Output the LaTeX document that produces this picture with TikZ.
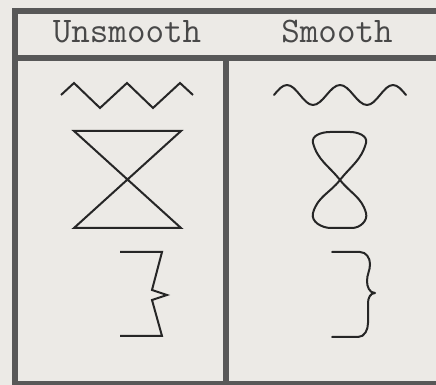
\documentclass[tikz,border=0pt]{standalone}
\definecolor{paper}{RGB}{236,234,230}
\definecolor{framegray}{RGB}{88,88,88}
\definecolor{inkgray}{RGB}{72,72,72}
\tikzset{
  frameline/.style={draw=framegray,line width=6pt},
  headtext/.style={font=\fontsize{36}{36}\selectfont\ttfamily,text=inkgray,inner sep=0pt,anchor=base},
  glyph/.style={draw=black!85,line width=2pt,line join=miter},
  smoothglyph/.style={glyph,line join=round,line cap=round}
}

\begin{document}
\begin{tikzpicture}[x=1pt,y=1pt]
      \clip (0,0) rectangle (436,385);
      \fill[paper] (0,0) rectangle (436,385);

      % table frame
      \draw[frameline] (14.5,1) rectangle (440,373.5);
      \draw[frameline] (14.5,326.5) -- (440,326.5);
      \draw[frameline] (226,326.5) -- (226,1);

      % column heads
      \node[headtext] (unsmoothhead) at (127,342) {Unsmooth};
      \node[headtext] (smoothhead) at (337,342) {Smooth};

      % unsmooth column
      \draw[glyph] (61,290) -- (74,302) -- (100,277) -- (127,302) -- (153,277) -- (180,302) -- (193,290);
      \draw[glyph] (74,254) -- (181,254) -- (74,157) -- (181,157) -- cycle;
      \draw[glyph] (120,133) -- (162,133) -- (152,95) -- (167,90) -- (152,85) -- (162,49) -- (120,49);

      % smooth column
      \draw[smoothglyph] (274,290) sin (287,300) cos (300,290) sin (313,280) cos (326.5,290)
        sin (340,300) cos (353.5,290) sin (367,280) cos (380,290) sin (393,300) cos (406,290);
      \coordinate (cross) at (340,205);
      \draw[smoothglyph] (cross) to[out=128,in=-75] (313,242) to[out=105,in=180] (330,253) -- (350,253)
        to[out=0,in=75] (366,242) to[out=-105,in=52] (cross)
        to[out=-128,in=75] (313,172) to[out=-105,in=180] (331,157) -- (352,157)
        to[out=0,in=-75] (366,172) to[out=105,in=-52] (cross);
      \draw[smoothglyph] (332,133) -- (360,133) to[out=0,in=90] (370,121) to[out=-90,in=90] (367,104)
        to[out=-90,in=180] (375,92) to[out=180,in=90] (368,82) to[out=-90,in=90] (368,62)
        to[out=-90,in=0] (358,48) -- (332,48);
    \end{tikzpicture}
\end{document}
